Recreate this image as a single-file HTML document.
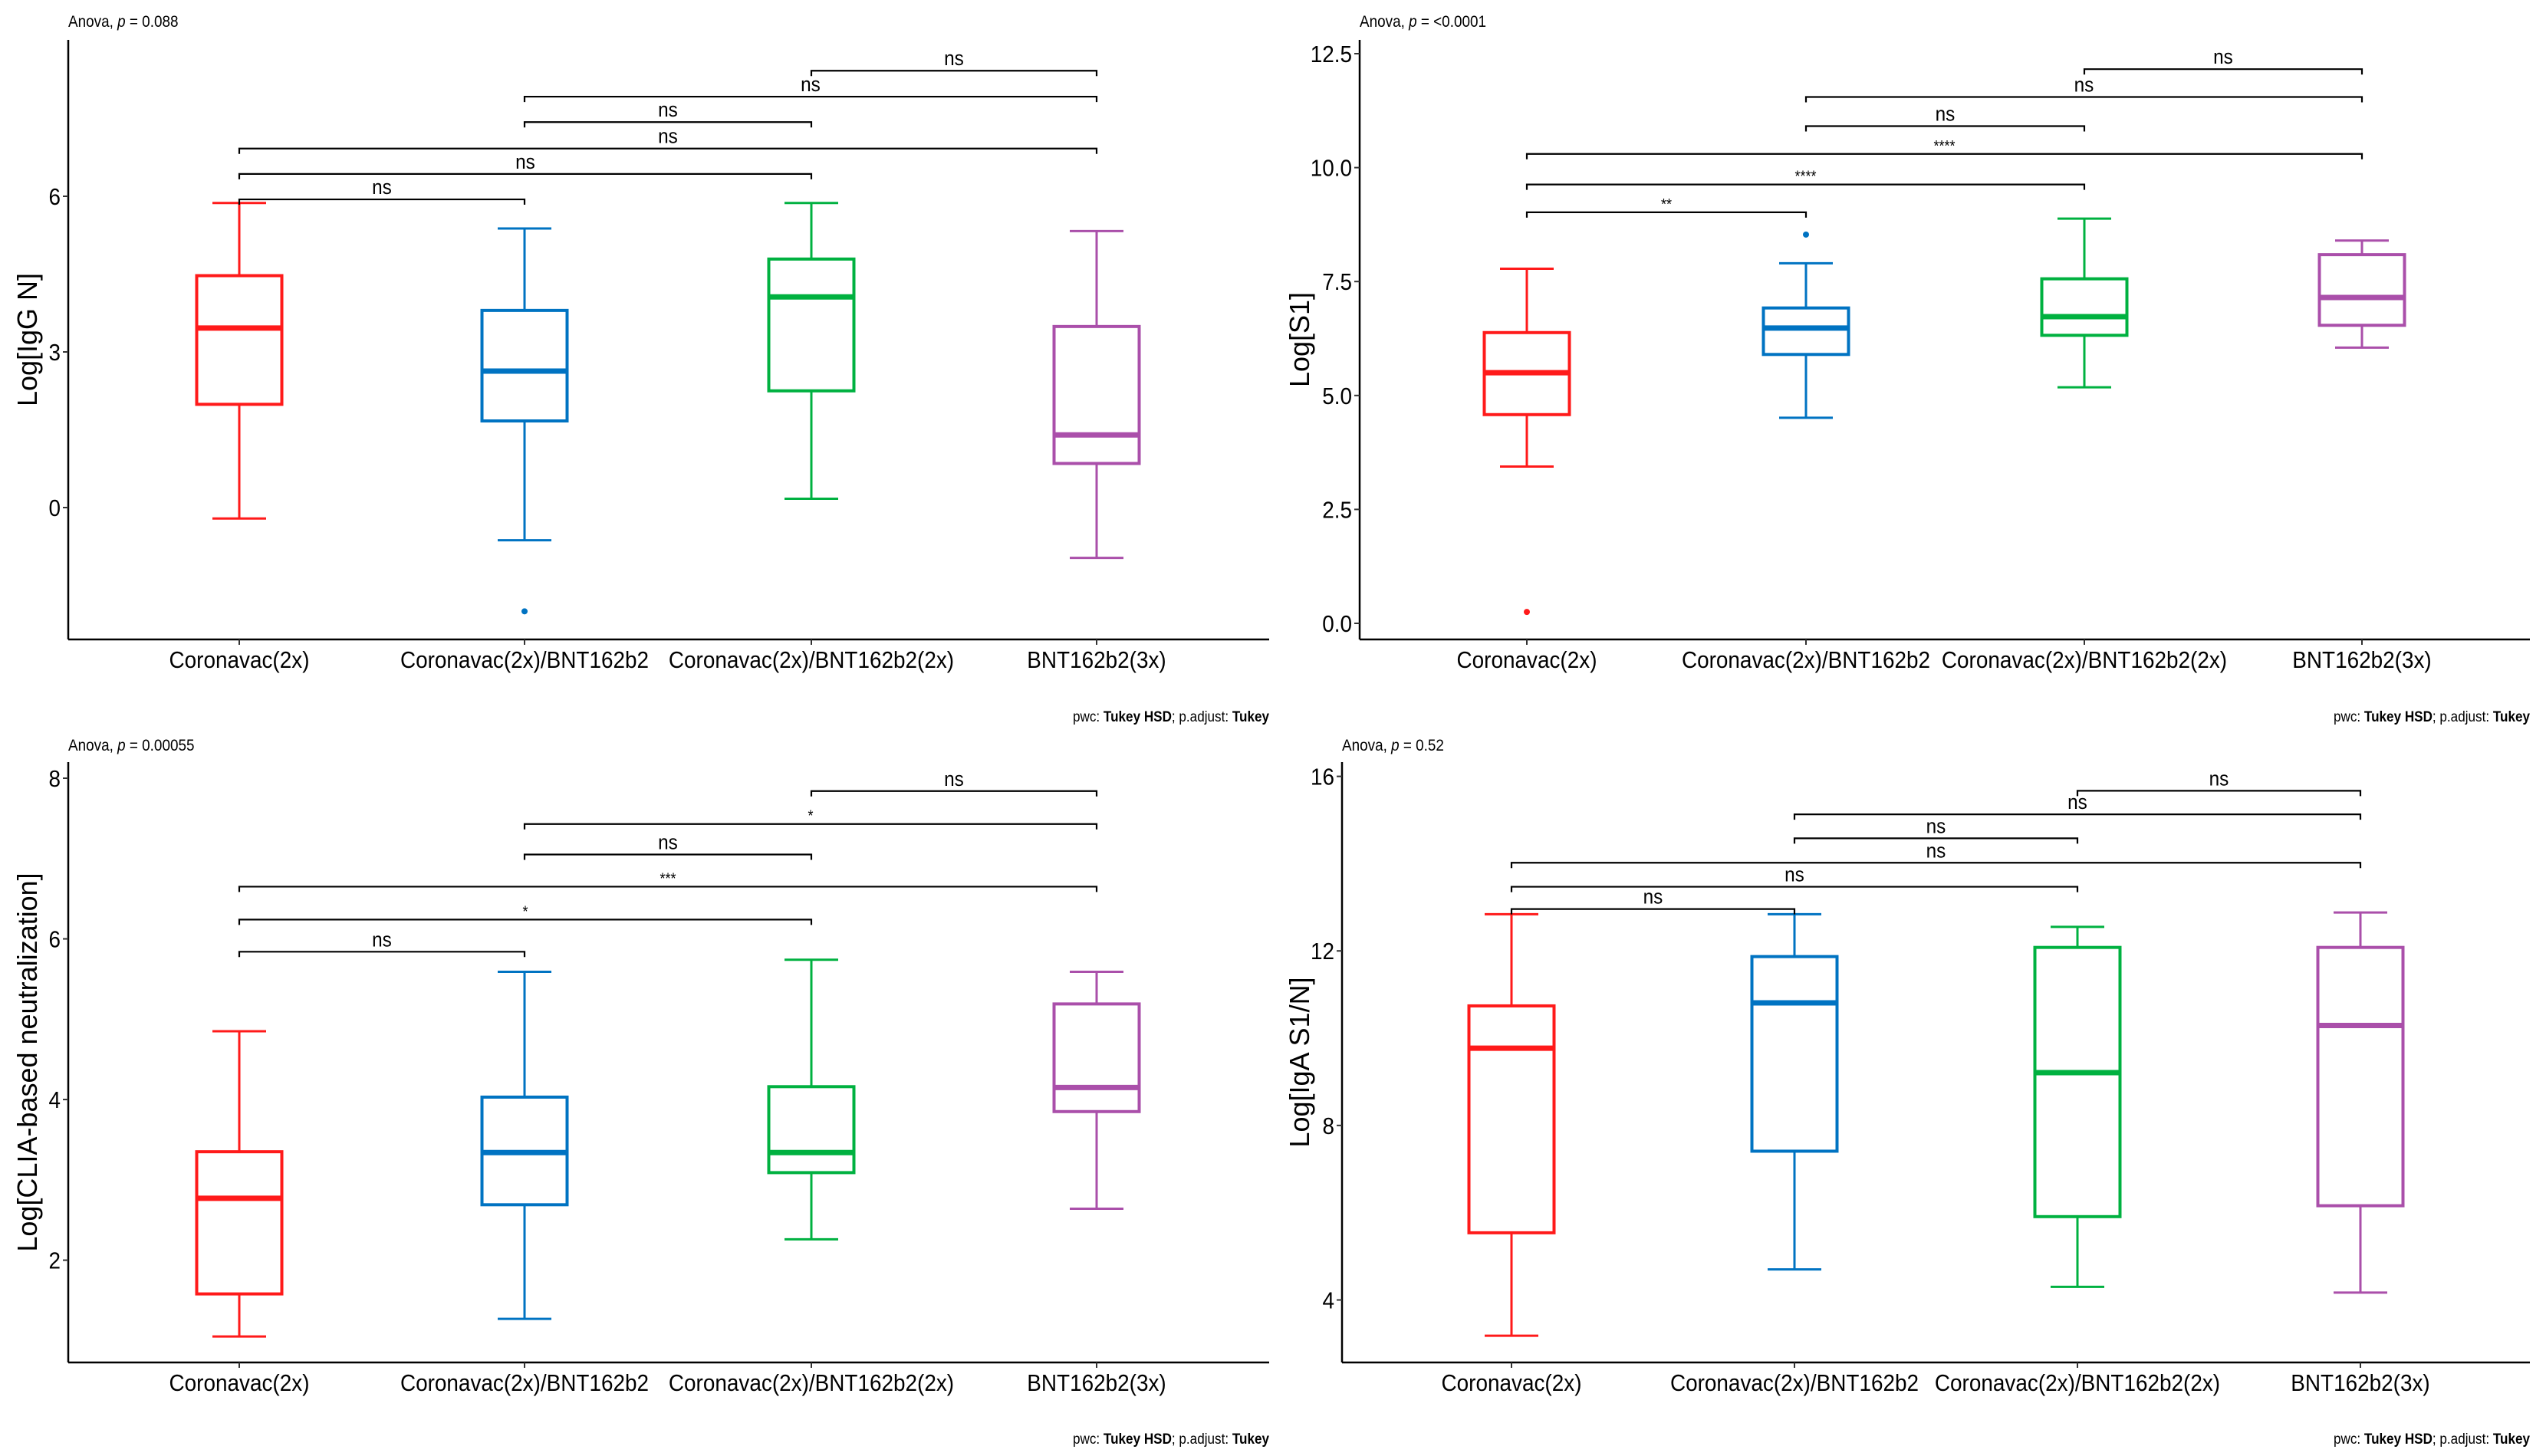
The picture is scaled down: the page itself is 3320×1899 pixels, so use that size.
<!DOCTYPE html>
<html><head><meta charset="utf-8"><style>
html,body{margin:0;padding:0;background:#fff;}
svg{display:block;}
text{font-family:"Liberation Sans Narrow","Liberation Sans",sans-serif;fill:#000;}
.yt{font-family:"Liberation Sans",sans-serif;font-size:36px;}
</style></head><body>
<svg id="fig" width="3320" height="1899" viewBox="0 0 3320 1899" xmlns="http://www.w3.org/2000/svg"></svg>
<script>
// Shared
const categories = ["Coronavac(2x)","Coronavac(2x)/BNT162b2","Coronavac(2x)/BNT162b2(2x)","BNT162b2(3x)"];
const colors = ["#FF1A1A","#0073C2","#00B140","#AA4FAA"];
const pairs = [[0,1],[0,2],[0,3],[1,2],[1,3],[2,3]];

// Panel A: IgG N
const aLow = [-0.21,-0.63,0.17,-0.97];
const aQ1  = [1.99,1.67,2.25,0.85];
const aMed = [3.46,2.63,4.06,1.40];
const aQ3  = [4.47,3.80,4.79,3.49];
const aHigh= [5.87,5.38,5.87,5.33];
const aOut = [[],[-2.0],[],[]];
const aTicks = [0,3,6];
const aBrY = [5.94,6.43,6.92,7.43,7.92,8.42];
const aBrLab = ["ns","ns","ns","ns","ns","ns"];

// Panel B: S1
const bLow = [3.44,4.51,5.18,6.05];
const bQ1  = [4.58,5.90,6.32,6.54];
const bMed = [5.50,6.48,6.73,7.15];
const bQ3  = [6.38,6.92,7.56,8.09];
const bHigh= [7.78,7.90,8.88,8.40];
const bOut = [[0.25],[8.53],[],[]];
const bTicks = [0,2.5,5,7.5,10,12.5];
const bTickLab = ["0.0","2.5","5.0","7.5","10.0","12.5"];
const bBrY = [9.02,9.63,10.30,10.91,11.55,12.16];
const bBrLab = ["**","****","****","ns","ns","ns"];

// Panel C: CLIA neutralization
const cLow = [1.05,1.27,2.26,2.64];
const cQ1  = [1.58,2.69,3.09,3.85];
const cMed = [2.77,3.34,3.34,4.15];
const cQ3  = [3.35,4.03,4.16,5.19];
const cHigh= [4.85,5.59,5.74,5.59];
const cOut = [[],[],[],[]];
const cTicks = [2,4,6,8];
const cBrY = [5.84,6.24,6.65,7.05,7.43,7.84];
const cBrLab = ["ns","*","***","ns","*","ns"];

// Panel D: IgA S1/N
const dLow = [3.18,4.70,4.30,4.17];
const dQ1  = [5.54,7.41,5.91,6.16];
const dMed = [9.77,10.81,9.21,10.29];
const dQ3  = [10.74,11.87,12.08,12.08];
const dHigh= [12.84,12.84,12.55,12.88];
const dOut = [[],[],[],[]];
const dTicks = [4,8,12,16];
const dBrY = [12.96,13.47,14.02,14.58,15.13,15.67];
const dBrLab = ["ns","ns","ns","ns","ns","ns"];

const NS="http://www.w3.org/2000/svg";
const svg=document.getElementById('fig');
function mk(tag,attrs,parent){const e=document.createElementNS(NS,tag);for(const k in attrs)e.setAttribute(k,attrs[k]);(parent||svg).appendChild(e);return e;}
function narrow(t,f){
  const w=t.getComputedTextLength();
  if(w>0){t.setAttribute('textLength',(w*(f||0.9)).toFixed(1));t.setAttribute('lengthAdjust','spacingAndGlyphs');}
}

function panel(cfg){
  const g=mk('g',{});
  
  
  const y=v=>cfg.y0+(v-cfg.v0)*(cfg.y1-cfg.y0)/(cfg.v1-cfg.v0);
  const x=i=>cfg.cx[i];
  const ax=mk('line',{x1:cfg.left,y1:cfg.top,x2:cfg.left,y2:cfg.bottom,stroke:'#000','stroke-width':2.5},g);
  
  
  const bx=mk('line',{x1:cfg.left,y1:cfg.bottom,x2:cfg.right,y2:cfg.bottom,stroke:'#000','stroke-width':2.5},g);
  
  
  cfg.ticks.forEach((t,i)=>{
    const ty=y(t);
    mk('line',{x1:cfg.left-7,y1:ty,x2:cfg.left,y2:ty,stroke:'#333','stroke-width':2},g);
    const tl=mk('text',{x:cfg.left-10,y:ty+11,'text-anchor':'end','font-size':31,fill:'#222'},g);
    tl.textContent=cfg.tickLab?cfg.tickLab[i]:String(t);
    
    
    narrow(tl);
  });
  categories.forEach((c,i)=>{
    mk('line',{x1:x(i),y1:cfg.bottom,x2:x(i),y2:cfg.bottom+7,stroke:'#333','stroke-width':2},g);
    const xl=mk('text',{x:x(i),y:cfg.bottom+37,'text-anchor':'middle','font-size':31,fill:'#222'},g);
    xl.textContent=c;
    
    
    narrow(xl);
  });
  const yt=mk('text',{x:0,y:0,'text-anchor':'middle','class':'yt',transform:`translate(${cfg.ytx},${(cfg.top+cfg.bottom)/2}) rotate(-90)`},g);
  yt.textContent=cfg.ytitle;
  
  
  const an=mk('text',{x:cfg.left,y:cfg.anovaY,'font-size':21},g);
  an.innerHTML='Anova, <tspan font-style="italic">p</tspan> = '+cfg.anova;
  
  
  narrow(an);
  const pw=mk('text',{x:cfg.right,y:cfg.pwcY,'text-anchor':'end','font-size':19},g);
  pw.innerHTML='pwc: <tspan font-weight="bold">Tukey HSD</tspan>; p.adjust: <tspan font-weight="bold">Tukey</tspan>';
  
  
  narrow(pw);
  const bw=111,cw=70;
  for(let i=0;i<4;i++){
    const bg=mk('g',{},g);
    
    
    const col=colors[i];
    const cx=x(i);
    mk('line',{x1:cx,y1:y(cfg.high[i]),x2:cx,y2:y(cfg.q3[i]),stroke:col,'stroke-width':3},bg);
    mk('line',{x1:cx,y1:y(cfg.q1[i]),x2:cx,y2:y(cfg.low[i]),stroke:col,'stroke-width':3},bg);
    mk('line',{x1:cx-cw/2,y1:y(cfg.high[i]),x2:cx+cw/2,y2:y(cfg.high[i]),stroke:col,'stroke-width':3},bg);
    mk('line',{x1:cx-cw/2,y1:y(cfg.low[i]),x2:cx+cw/2,y2:y(cfg.low[i]),stroke:col,'stroke-width':3},bg);
    mk('rect',{x:cx-bw/2,y:y(cfg.q3[i]),width:bw,height:y(cfg.q1[i])-y(cfg.q3[i]),fill:'#fff',stroke:col,'stroke-width':4},bg);
    mk('line',{x1:cx-bw/2,y1:y(cfg.med[i]),x2:cx+bw/2,y2:y(cfg.med[i]),stroke:col,'stroke-width':7},bg);
    cfg.out[i].forEach(o=>{
      const c=mk('circle',{cx:cx,cy:y(o),r:4,fill:col},bg);
      
      
    });
  }
  pairs.forEach((p,k)=>{
    const by=y(cfg.brY[k]);
    const x1=x(p[0]),x2=x(p[1]);
    const br=mk('path',{d:`M${x1},${by+7}V${by}H${x2}V${by+7}`,fill:'none',stroke:'#000','stroke-width':2.2},g);
    
    
    const lab=cfg.brLab[k];
    const star=lab.indexOf('*')>=0;
    const t=mk('text',{x:(x1+x2)/2,y:star?by-4:by-7,'text-anchor':'middle','font-size':star?20:27},g);
    t.textContent=lab;
    
    
    narrow(t);
  });
}

panel({name:'panel-igg-n',left:89,right:1655,top:52,bottom:834,cx:[312,684,1058,1430],
  v0:0,y0:662,v1:6,y1:256,ticks:aTicks,ytx:48,ytitle:'Log[IgG N]',anova:'0.088',anovaY:35,pwcY:941,
  low:aLow,q1:aQ1,med:aMed,q3:aQ3,high:aHigh,out:aOut,brY:aBrY,brLab:aBrLab});
panel({name:'panel-s1',left:1773,right:3299,top:52,bottom:834,cx:[1991,2355,2718,3080],
  v0:0,y0:813,v1:12.5,y1:70,ticks:bTicks,tickLab:bTickLab,ytx:1707,ytitle:'Log[S1]',anova:'&lt;0.0001',anovaY:35,pwcY:941,
  low:bLow,q1:bQ1,med:bMed,q3:bQ3,high:bHigh,out:bOut,brY:bBrY,brLab:bBrLab});
panel({name:'panel-clia-neutralization',left:89,right:1655,top:994,bottom:1777,cx:[312,684,1058,1430],
  v0:2,y0:1643.6,v1:8,y1:1015,ticks:cTicks,ytx:48,ytitle:'Log[CLIA-based neutralization]',anova:'0.00055',anovaY:979,pwcY:1883,
  low:cLow,q1:cQ1,med:cMed,q3:cQ3,high:cHigh,out:cOut,brY:cBrY,brLab:cBrLab});
panel({name:'panel-iga-s1-n',left:1750,right:3299,top:994,bottom:1777,cx:[1971,2340,2709,3078],
  v0:4,y0:1695.5,v1:16,y1:1012.6,ticks:dTicks,ytx:1707,ytitle:'Log[IgA S1/N]',anova:'0.52',anovaY:979,pwcY:1883,
  low:dLow,q1:dQ1,med:dMed,q3:dQ3,high:dHigh,out:dOut,brY:dBrY,brLab:dBrLab});
</script>
</body></html>
